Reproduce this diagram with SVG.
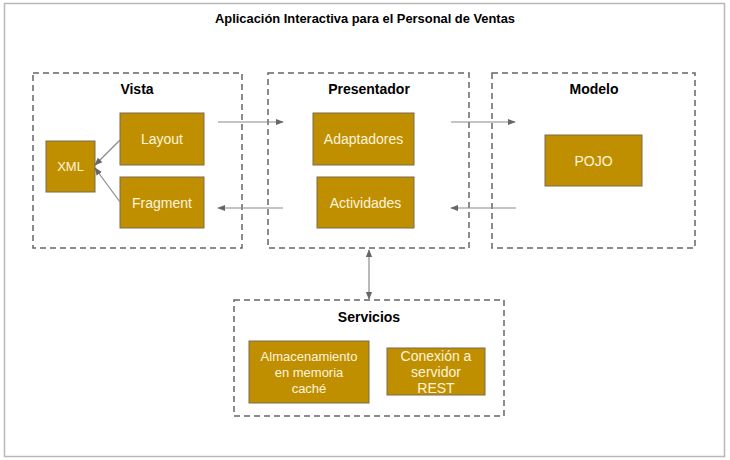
<svg xmlns="http://www.w3.org/2000/svg" width="730" height="460" viewBox="0 0 730 460">
<style>
.frame{fill:#fff;stroke:#b8b8b8;stroke-width:1.5}
.grp{fill:none;stroke:#666;stroke-width:1.5;stroke-dasharray:6 4}
.node{fill:#bf8f00;stroke:#7a6a50;stroke-width:1}
.nt{font-family:"Liberation Sans",Arial,sans-serif;font-size:14px;fill:#fff4dc;text-anchor:middle}
.gt{font-family:"Liberation Sans",Arial,sans-serif;font-size:14px;font-weight:bold;fill:#000;text-anchor:middle}
.title{font-family:"Liberation Sans",Arial,sans-serif;font-size:13px;font-weight:bold;fill:#000;text-anchor:middle}
.conn{stroke:#8a8a8a;stroke-width:1.2;fill:none}
</style>
<defs>
<marker id="ah" viewBox="0 0 10 10" refX="9" refY="5" markerWidth="8" markerHeight="8" markerUnits="userSpaceOnUse" orient="auto-start-reverse">
<path d="M0,1 L10,5 L0,9 z" fill="#666"/>
</marker>
</defs>
<rect class="frame" x="4.5" y="3.5" width="720" height="453"/>
<text class="title" x="365" y="23" textLength="300" lengthAdjust="spacingAndGlyphs">Aplicación Interactiva para el Personal de Ventas</text>
<g id="vista">
<rect class="grp" x="33" y="73" width="209" height="175"/>
<text class="gt" x="137" y="94">Vista</text>
</g>
<g id="presentador">
<rect class="grp" x="268" y="73" width="201" height="175"/>
<text class="gt" x="369" y="94">Presentador</text>
</g>
<g id="modelo">
<rect class="grp" x="492" y="73" width="203" height="175"/>
<text class="gt" x="594" y="94">Modelo</text>
</g>
<g id="servicios">
<rect class="grp" x="234" y="300" width="270" height="116"/>
<text class="gt" x="369" y="322">Servicios</text>
</g>
<g id="xml">
<rect class="node" x="46" y="141" width="49" height="51"/>
<text class="nt" x="70.5" y="171" style="font-size:13px">XML</text>
</g>
<g id="layout">
<rect class="node" x="120" y="113" width="84" height="52"/>
<text class="nt" x="162" y="144">Layout</text>
</g>
<g id="fragment">
<rect class="node" x="120" y="177" width="84" height="51"/>
<text class="nt" x="162" y="208">Fragment</text>
</g>
<g id="adaptadores">
<rect class="node" x="313" y="113" width="101" height="52"/>
<text class="nt" x="363.5" y="144">Adaptadores</text>
</g>
<g id="actividades">
<rect class="node" x="317" y="177" width="97" height="51"/>
<text class="nt" x="365.5" y="208">Actividades</text>
</g>
<g id="pojo">
<rect class="node" x="545" y="135" width="97" height="51"/>
<text class="nt" x="593.5" y="166">POJO</text>
</g>
<g id="almacenamiento">
<rect class="node" x="249" y="341" width="120" height="62"/>
<text class="nt" x="309" y="361" style="font-size:13px">Almacenamiento</text>
<text class="nt" x="309" y="377" style="font-size:13px">en memoria</text>
<text class="nt" x="309" y="393" style="font-size:13px">caché</text>
</g>
<g id="conexion">
<rect class="node" x="387" y="348" width="98" height="47"/>
<text class="nt" x="436" y="361">Conexión  a</text>
<text class="nt" x="436" y="377">servidor</text>
<text class="nt" x="436" y="393">REST</text>
</g>
<g id="connectors">
<line class="conn" x1="218" y1="122" x2="283" y2="122" marker-end="url(#ah)"/>
<line class="conn" x1="283" y1="208" x2="218" y2="208" marker-end="url(#ah)"/>
<line class="conn" x1="451" y1="122" x2="515" y2="122" marker-end="url(#ah)"/>
<line class="conn" x1="516" y1="208" x2="451" y2="208" marker-end="url(#ah)"/>
<line class="conn" x1="120" y1="140" x2="95" y2="165" marker-end="url(#ah)"/>
<line class="conn" x1="120" y1="202" x2="95" y2="168" marker-end="url(#ah)"/>
<line class="conn" x1="369" y1="250" x2="369" y2="299" marker-start="url(#ah)" marker-end="url(#ah)"/>
</g>
</svg>
